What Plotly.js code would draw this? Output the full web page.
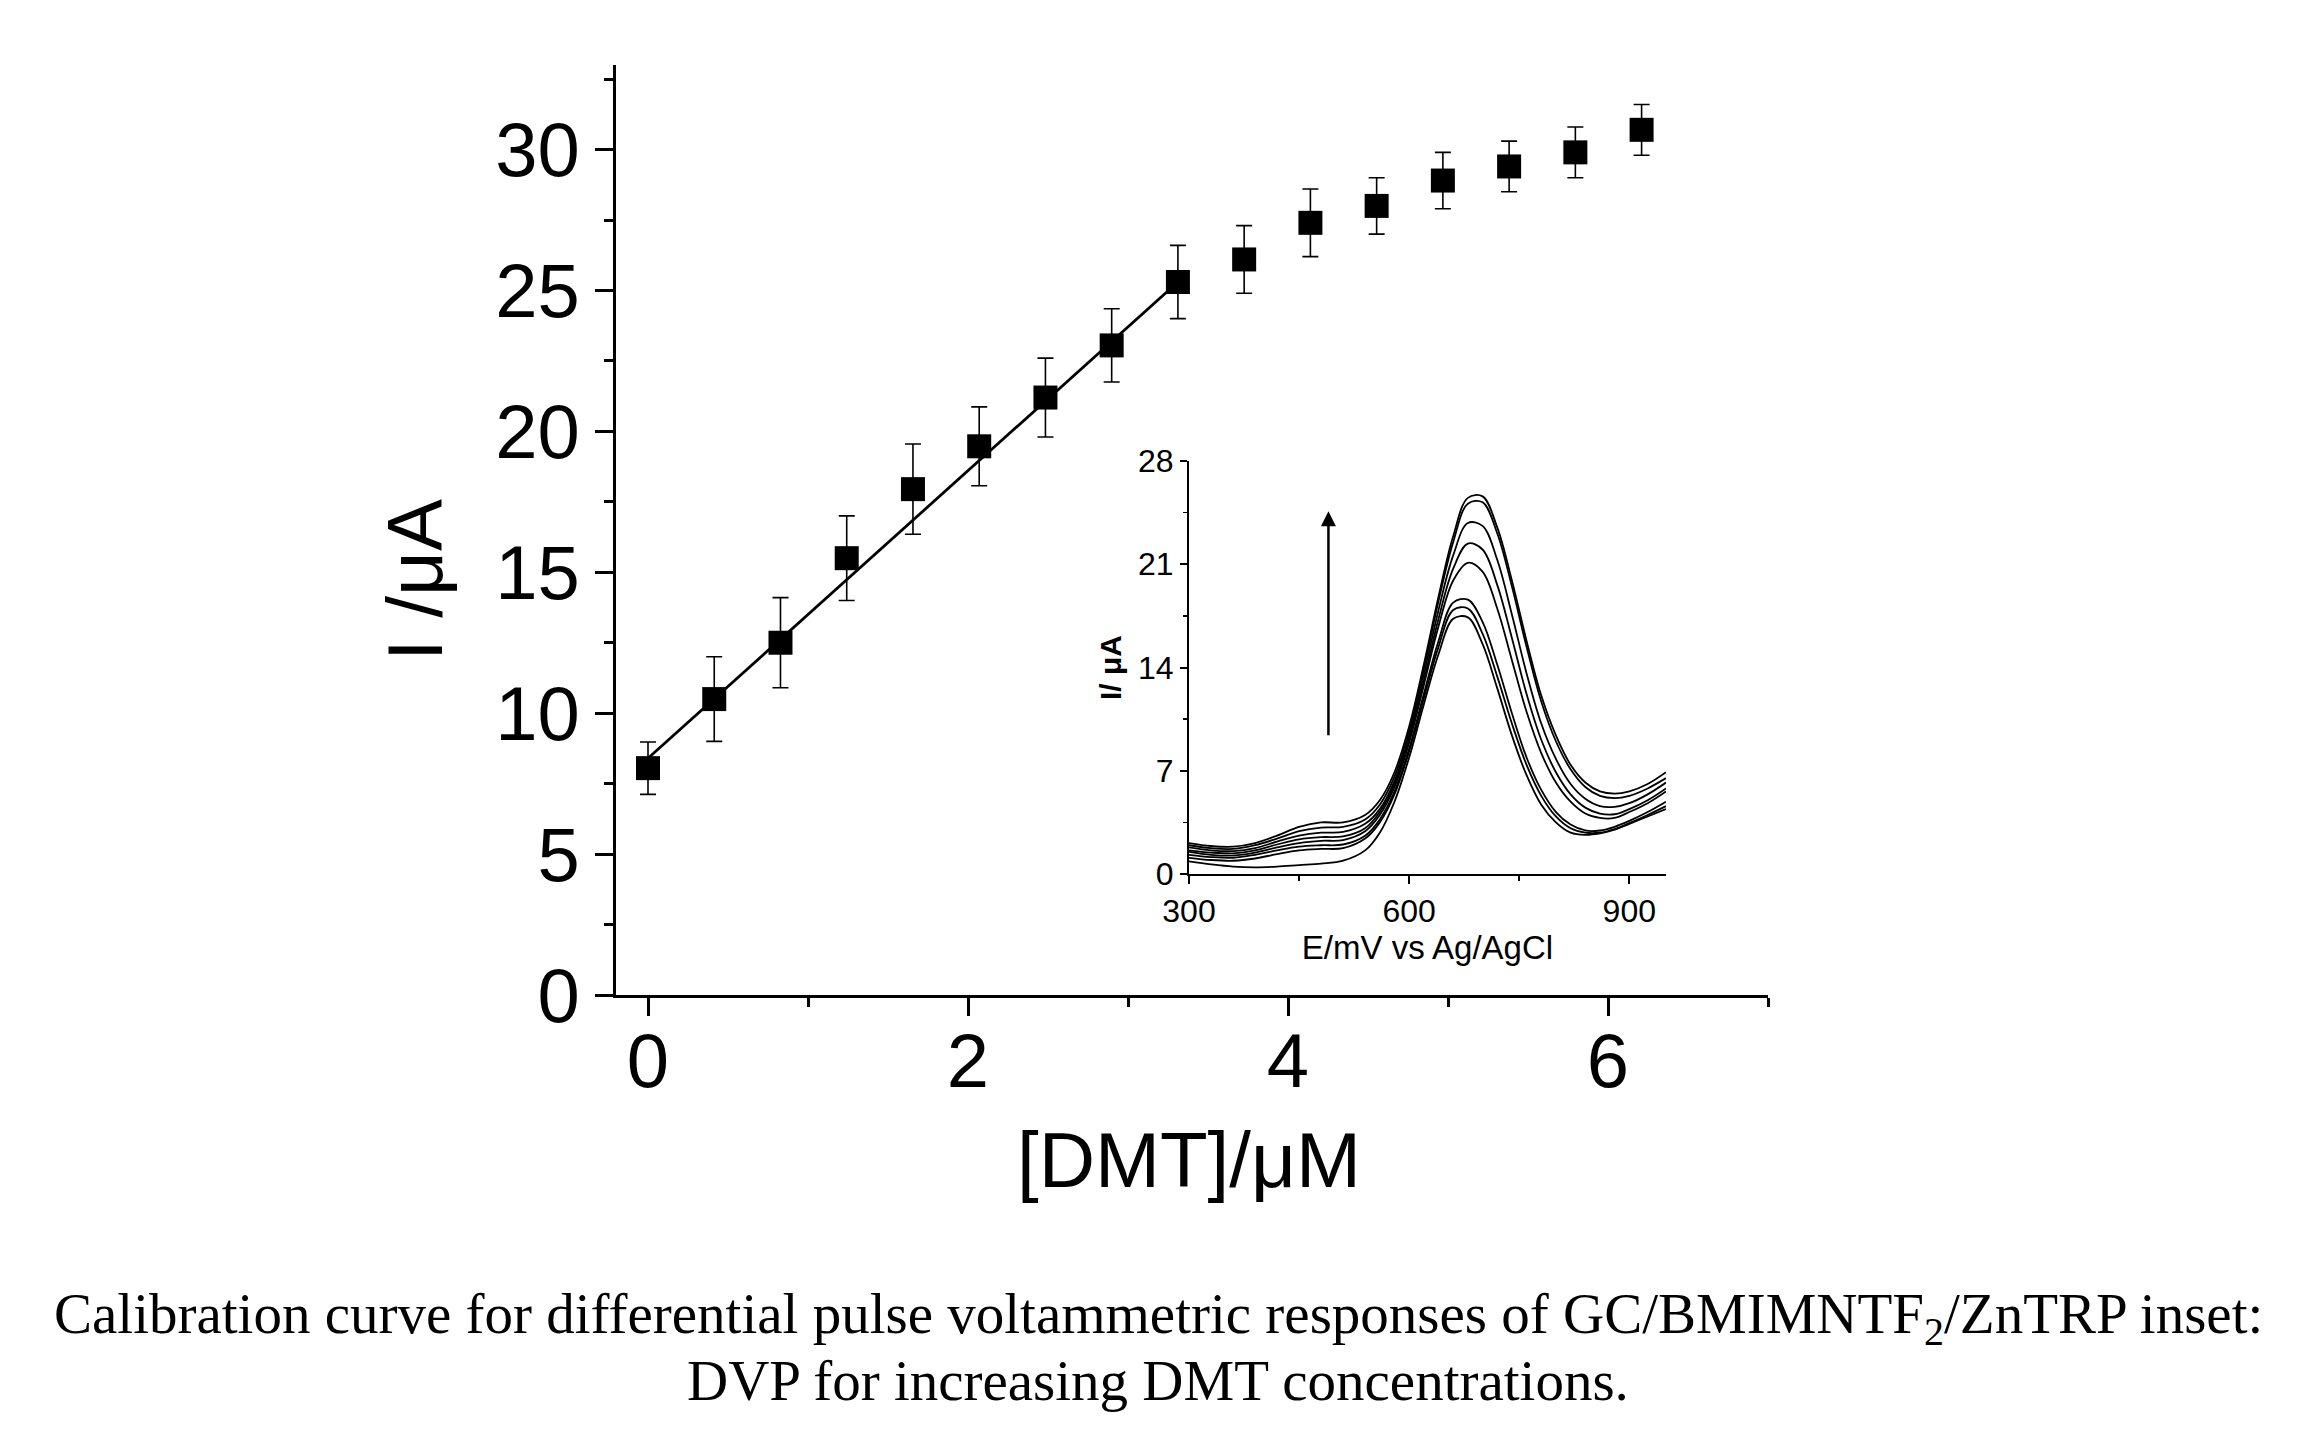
<!DOCTYPE html>
<html>
<head>
<meta charset="utf-8">
<script src="https://cdn.plot.ly/plotly-3.0.1.min.js"></script>
<style>
  html, body { margin: 0; padding: 0; background: #ffffff; }
  #chart { width: 2302px; height: 1440px; }
</style>
</head>
<body>
<div id="chart"></div>
<script>
// ---- Main calibration data ----
const dmtConc = [0, 0.414, 0.828, 1.242, 1.656, 2.07, 2.484, 2.898, 3.312, 3.726, 4.14, 4.554, 4.968, 5.382, 5.796, 6.21];
const current = [8.05, 10.5, 12.5, 15.5, 17.95, 19.47, 21.2, 23.05, 25.3, 26.1, 27.4, 28.0, 28.9, 29.4, 29.9, 30.7];
const currentErr = [0.93, 1.5, 1.6, 1.5, 1.6, 1.4, 1.4, 1.3, 1.3, 1.2, 1.2, 1.0, 1.0, 0.9, 0.9, 0.9];
const fitX = [0, 3.312];
const fitY = [8.4, 25.3];

// ---- Inset DPV curves ----
const potential = [300, 330, 360, 390, 420, 450, 480, 510, 540, 560, 580, 600, 620, 640, 660, 680, 700, 720, 740, 760, 780, 800, 820, 840, 860, 880, 900, 925, 950];
const dpv1 = [0.85, 0.65, 0.5, 0.45, 0.5, 0.6, 0.7, 0.9, 1.6, 2.8, 4.9, 7.9, 11.5, 14.9, 17.3, 17.4, 15.6, 12.6, 9.4, 6.7, 4.7, 3.5, 2.8, 2.65, 2.75, 3.0, 3.4, 3.9, 4.4];
const dpv2 = [1.1, 0.95, 0.9, 1.05, 1.35, 1.6, 1.7, 1.75, 2.4, 3.5, 5.4, 8.3, 11.9, 15.4, 17.9, 18.0, 16.3, 13.4, 10.2, 7.4, 5.3, 3.9, 3.1, 2.8, 2.8, 3.05, 3.45, 4.0, 4.6];
const dpv3 = [1.3, 1.15, 1.1, 1.3, 1.6, 1.85, 1.95, 2.0, 2.6, 3.7, 5.6, 8.5, 12.2, 15.8, 18.4, 18.6, 17.1, 14.2, 10.9, 7.9, 5.7, 4.2, 3.35, 2.95, 2.95, 3.2, 3.6, 4.2, 4.9];
const dpv4 = [1.5, 1.3, 1.25, 1.45, 1.8, 2.1, 2.25, 2.3, 2.9, 4.0, 5.9, 8.9, 12.8, 16.8, 19.9, 21.1, 20.5, 18.0, 14.5, 11.0, 8.2, 6.2, 4.9, 4.1, 3.8, 3.8, 4.2, 4.8, 5.6];
const dpv5 = [1.6, 1.45, 1.4, 1.6, 2.0, 2.35, 2.5, 2.55, 3.1, 4.2, 6.1, 9.1, 13.1, 17.3, 20.7, 22.4, 22.0, 19.6, 16.0, 12.2, 9.1, 6.9, 5.4, 4.5, 4.1, 4.05, 4.4, 5.0, 5.8];
const dpv6 = [1.8, 1.6, 1.55, 1.75, 2.2, 2.6, 2.8, 2.85, 3.4, 4.4, 6.3, 9.4, 13.5, 17.9, 21.6, 23.8, 23.6, 21.3, 17.6, 13.6, 10.2, 7.8, 6.1, 5.1, 4.6, 4.55, 4.8, 5.4, 6.2];
const dpv7 = [1.95, 1.75, 1.7, 1.95, 2.4, 2.9, 3.15, 3.2, 3.7, 4.7, 6.6, 9.7, 13.9, 18.5, 22.5, 25.1, 25.2, 23.1, 19.5, 15.4, 11.7, 9.0, 7.1, 5.9, 5.3, 5.15, 5.3, 5.8, 6.5];
const dpv8 = [2.1, 1.9, 1.85, 2.1, 2.6, 3.2, 3.5, 3.5, 4.0, 5.0, 6.9, 10.0, 14.2, 18.8, 22.9, 25.5, 25.6, 23.5, 19.9, 15.8, 12.1, 9.4, 7.4, 6.2, 5.6, 5.45, 5.6, 6.1, 6.9];
const dpvCurves = [dpv1, dpv2, dpv3, dpv4, dpv5, dpv6, dpv7, dpv8];

// arrow in the inset (mV, µA)
const arrowX = 490, arrowTail = 9.3, arrowHead = 24.6;

const xTitle = '[DMT]/μM';
const yTitle = 'I /μA';
const captionLines = [
  "Calibration curve for differential pulse voltammetric responses of GC/BMIMNTF<sub>2</sub>/ZnTRP inset:",
  "DVP for increasing DMT concentrations."
];

const SANS = "Liberation Sans, Arial, sans-serif";
const SERIF = "Liberation Serif, Times New Roman, serif";

const traces = [];
traces.push({
  x: fitX, y: fitY, mode: 'lines', type: 'scatter',
  line: { color: '#000', width: 2.8 }, xaxis: 'x', yaxis: 'y', hoverinfo: 'skip'
});
traces.push({
  x: dmtConc, y: current, mode: 'markers', type: 'scatter',
  marker: { symbol: 'square', size: 24, color: '#000' },
  error_y: { type: 'data', array: currentErr, visible: true, color: '#000', thickness: 1.6, width: 8 },
  xaxis: 'x', yaxis: 'y'
});
dpvCurves.forEach(c => {
  traces.push({
    x: potential, y: c, mode: 'lines', type: 'scatter',
    line: { color: '#000', width: 1.8, shape: 'spline', smoothing: 1 },
    xaxis: 'x2', yaxis: 'y2', hoverinfo: 'skip'
  });
});

const W = 2302, H = 1440;
const layout = {
  width: W, height: H,
  margin: { l: 0, r: 0, t: 0, b: 0 },
  paper_bgcolor: '#fff', plot_bgcolor: 'rgba(0,0,0,0)',
  showlegend: false,
  font: { family: SANS, color: '#000' },
  xaxis: {
    domain: [616 / W, 1768 / W], range: [-0.2, 7],
    showline: true, linecolor: '#000', linewidth: 3, zeroline: false, showgrid: false,
    ticks: 'outside', ticklen: 18, tickwidth: 3, tickcolor: '#000',
    tick0: 0, dtick: 2, ticklabelstandoff: -20,
    minor: { dtick: 1, ticks: 'outside', ticklen: 9, tickwidth: 3, tickcolor: '#000' },
    tickfont: { size: 76, family: SANS, color: '#000' },
    anchor: 'y', automargin: false
  },
  yaxis: {
    domain: [(H - 995) / H, (H - 65) / H], range: [0, 33],
    showline: true, linecolor: '#000', linewidth: 3, zeroline: false, showgrid: false,
    ticks: 'outside', ticklen: 18, tickwidth: 3, tickcolor: '#000',
    tick0: 0, dtick: 5,
    minor: { dtick: 2.5, ticks: 'outside', ticklen: 9, tickwidth: 3, tickcolor: '#000' },
    tickfont: { size: 76, family: SANS, color: '#000' },
    anchor: 'x', automargin: false
  },
  xaxis2: {
    domain: [1189 / W, 1666 / W], range: [300, 950],
    showline: true, linecolor: '#000', linewidth: 2, zeroline: false, showgrid: false,
    ticks: 'outside', ticklen: 8, tickwidth: 2, tickcolor: '#000',
    tick0: 300, dtick: 300,
    minor: { dtick: 150, ticks: 'outside', ticklen: 5, tickwidth: 1.5, tickcolor: '#000' },
    tickfont: { size: 32, family: SANS, color: '#000' },
    title: { text: 'E/mV vs Ag/AgCl', font: { size: 33, family: SANS, color: '#000' }, standoff: 6 },
    anchor: 'y2', automargin: false
  },
  yaxis2: {
    domain: [(H - 874) / H, (H - 461) / H], range: [0, 28],
    showline: true, linecolor: '#000', linewidth: 2, zeroline: false, showgrid: false,
    ticks: 'outside', ticklen: 7, tickwidth: 2, tickcolor: '#000',
    tick0: 0, dtick: 7,
    minor: { dtick: 3.5, ticks: 'outside', ticklen: 4, tickwidth: 1.5, tickcolor: '#000' },
    tickfont: { size: 32, family: SANS, color: '#000' },
    title: { text: '<b>I/ μA</b>', font: { size: 30, family: SANS, color: '#000' }, standoff: 8 },
    anchor: 'x2', automargin: false
  },
  annotations: [
    {
      xref: 'paper', yref: 'paper', x: 415 / W, y: (H - 580) / H,
      xanchor: 'center', yanchor: 'middle', showarrow: false, textangle: -90,
      text: yTitle, font: { family: SANS, size: 78, color: '#000' }
    },
    {
      xref: 'paper', yref: 'paper', x: 1189 / W, y: (H - 1160) / H,
      xanchor: 'center', yanchor: 'middle', showarrow: false,
      text: xTitle, font: { family: SANS, size: 78, color: '#000' }
    },
    {
      xref: 'x2', yref: 'y2', axref: 'x2', ayref: 'y2',
      x: arrowX, y: arrowHead, ax: arrowX, ay: arrowTail,
      text: '', showarrow: true, arrowhead: 2, arrowsize: 1.2, arrowwidth: 2.5, arrowcolor: '#000'
    },
    {
      xref: 'paper', yref: 'paper', x: 1158 / W, y: (H - 1318) / H,
      xanchor: 'center', yanchor: 'middle', showarrow: false,
      text: captionLines[0], font: { family: SERIF, size: 57, color: '#000' }
    },
    {
      xref: 'paper', yref: 'paper', x: 1158 / W, y: (H - 1380) / H,
      xanchor: 'center', yanchor: 'middle', showarrow: false,
      text: captionLines[1], font: { family: SERIF, size: 57, color: '#000' }
    }
  ]
};

Plotly.newPlot('chart', traces, layout, { staticPlot: true, displayModeBar: false });
</script>
</body>
</html>
